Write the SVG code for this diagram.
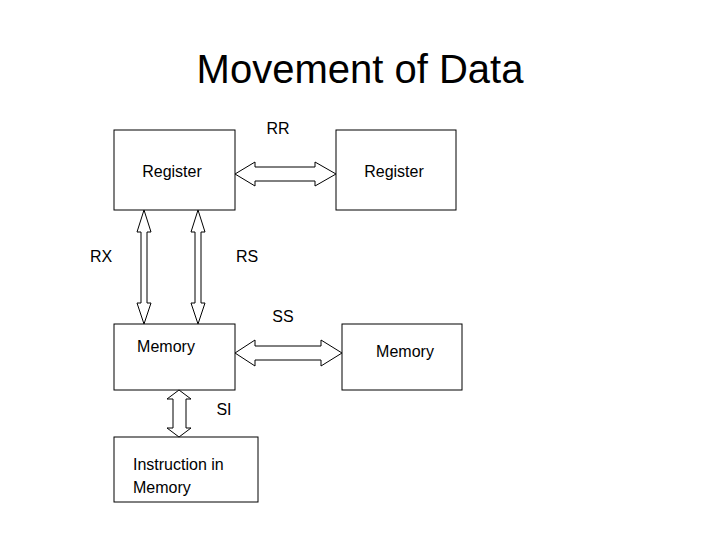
<svg xmlns="http://www.w3.org/2000/svg" width="720" height="540" viewBox="0 0 720 540">
<style>
text{font-family:"Liberation Sans",Arial,sans-serif;fill:#000}
.l{font-size:16px}
.b{fill:#fff;stroke:#000;stroke-width:1}
.a{fill:#fff;stroke:#000;stroke-width:1}
</style>
<rect width="720" height="540" fill="#fff"/>
<text x="360" y="83" font-size="40" text-anchor="middle">Movement of Data</text>
<g id="reg1"><rect class="b" x="114" y="130" width="121" height="80"/><text class="l" x="172" y="177" text-anchor="middle">Register</text></g>
<g id="reg2"><rect class="b" x="336" y="130" width="120" height="80"/><text class="l" x="394" y="177" text-anchor="middle">Register</text></g>
<g id="mem1"><rect class="b" x="114" y="324" width="121" height="66"/><text class="l" x="166" y="352" text-anchor="middle">Memory</text></g>
<g id="mem2"><rect class="b" x="342" y="324" width="120" height="66"/><text class="l" x="405" y="357" text-anchor="middle">Memory</text></g>
<g id="instr"><rect class="b" x="114" y="437" width="144" height="65"/><text class="l" x="133" y="470">Instruction in</text><text class="l" x="133" y="493">Memory</text></g>
<g id="connectors">
<polygon class="a" points="235,174 255,162 255,167 315,167 315,162 336,174 315,186 315,181 255,181 255,186"/>
<polygon class="a" points="235,353 255,340 255,346 321,346 321,340 342,353 321,366 321,360 255,360 255,366"/>
<polygon class="a" points="144,210 151,232 147,232 147,303 151,303 144,324 137,303 141,303 141,232 137,232"/>
<polygon class="a" points="198,210 205,232 201,232 201,303 205,303 198,324 191,303 195,303 195,232 191,232"/>
<polygon class="a" points="179,390 191,399 186,399 186,428 191,428 179,437 167,428 173,428 173,399 167,399"/>
</g>
<g id="labels">
<text class="l" x="278" y="134" text-anchor="middle">RR</text>
<text class="l" x="101" y="262" text-anchor="middle">RX</text>
<text class="l" x="247" y="262" text-anchor="middle">RS</text>
<text class="l" x="283" y="322" text-anchor="middle">SS</text>
<text class="l" x="224" y="415" text-anchor="middle">SI</text>
</g>
</svg>
